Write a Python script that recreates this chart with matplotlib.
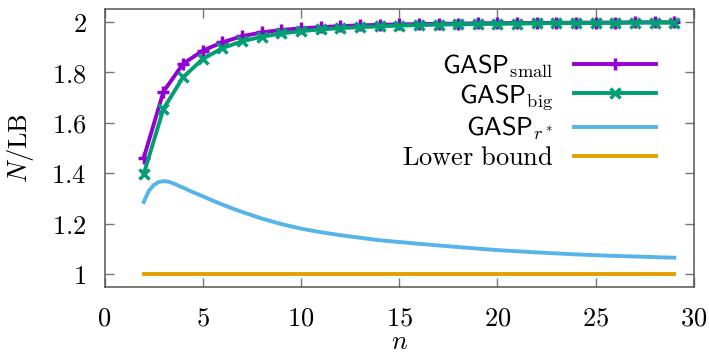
import numpy as np
import matplotlib
matplotlib.use("Agg")
import matplotlib.pyplot as plt
from matplotlib.ticker import FuncFormatter, MultipleLocator

# ----------------------
# Data
# ----------------------
n_vals = list(range(2, 30))
gasp_small = [1.462, 1.723, 1.833, 1.885, 1.918, 1.942, 1.957, 1.967, 1.973, 1.978,
              1.982, 1.985, 1.987, 1.989, 1.990, 1.991, 1.992, 1.993, 1.994, 1.994,
              1.995, 1.995, 1.996, 1.996, 1.996, 1.997, 1.997, 1.997]
gasp_big = [1.398, 1.655, 1.780, 1.852, 1.895, 1.922, 1.940, 1.953, 1.962, 1.969,
            1.974, 1.978, 1.981, 1.984, 1.986, 1.988, 1.989, 1.990, 1.991, 1.992,
            1.993, 1.994, 1.994, 1.995, 1.995, 1.996, 1.996, 1.996]
r_star_n = [2, 2.25, 2.5, 2.75, 3, 3.25, 3.5, 4, 4.5, 5, 5.5, 6, 6.5, 7, 8, 9, 10,
            11, 12, 13, 14, 16, 18, 20, 22, 24, 26, 29]
gasp_r_star = [1.286, 1.330, 1.353, 1.365, 1.369, 1.367, 1.360, 1.343, 1.325, 1.309,
               1.292, 1.276, 1.261, 1.247, 1.221, 1.199, 1.181, 1.167, 1.155, 1.145,
               1.135, 1.121, 1.108, 1.096, 1.087, 1.079, 1.073, 1.066]
lower_bound = [1.0] * len(n_vals)

FS = 19
plt.rcParams['mathtext.fontset'] = 'cm'
plt.rcParams['font.size'] = FS

fig = plt.figure(figsize=(7.09, 3.57), dpi=100)
ax = fig.add_axes([0.1474, 0.196, 0.8314, 0.779])

lw = 2.8
ax.plot(n_vals, gasp_small, color='#9400d3', lw=lw, marker='+', ms=8, mew=2.5,
        label=r'$\mathsf{GASP}_{\mathrm{small}}$')
ax.plot(n_vals, gasp_big, color='#009e73', lw=lw, marker='x', ms=7, mew=2.5,
        label=r'$\mathsf{GASP}_{\mathrm{big}}$')
ax.plot(r_star_n, gasp_r_star, color='#56b4e9', lw=lw,
        label=r'$\mathsf{GASP}_{r^*}$')
ax.plot(n_vals, lower_bound, color='#e69f00', lw=lw,
        label=r'$\mathrm{Lower\ bound}$')

ax.set_xlim(0, 30)
ax.set_ylim(0.95, 2.05)
ax.xaxis.set_major_locator(MultipleLocator(5))
ax.yaxis.set_major_locator(MultipleLocator(0.2))
fmt = FuncFormatter(lambda v, p: f'${v:g}$')
ax.xaxis.set_major_formatter(fmt)
ax.yaxis.set_major_formatter(fmt)

for s in ax.spines.values():
    s.set_color('#555555')
    s.set_linewidth(1.1)
ax.tick_params(direction='in', length=6.5, width=1.0, color='#777777',
               top=True, right=True, labelsize=FS)
ax.tick_params(axis='y', pad=13)
ax.tick_params(axis='x', pad=13)

ax.set_ylabel(r'$N/\mathrm{LB}$', fontsize=FS)
ax.set_xlabel(r'$n$', fontsize=FS)
ax.yaxis.set_label_coords(-0.117, 0.5)
ax.xaxis.set_label_coords(0.5, -0.15)

ax.legend(loc='upper right', bbox_to_anchor=(0.936, 0.845), frameon=False,
          markerfirst=False, borderpad=0, borderaxespad=0, handlelength=3.1,
          handletextpad=0.8, labelspacing=0.1, fontsize=FS)

fig.savefig('out.png', dpi=100)
